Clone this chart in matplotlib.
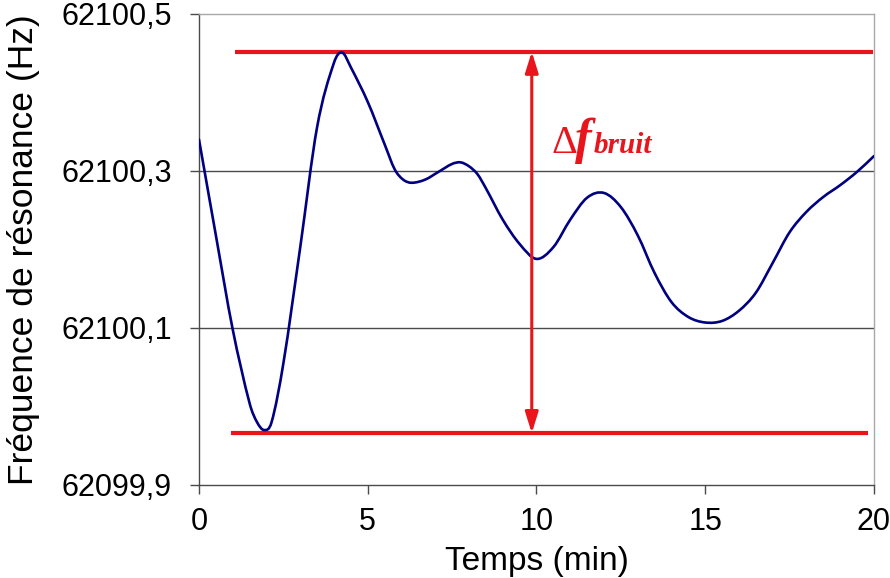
import numpy as np
import matplotlib
matplotlib.use("Agg")
import matplotlib.pyplot as plt
from matplotlib.path import Path
from matplotlib.patches import PathPatch

# Resonance frequency drift over time
temps = [0, 0.5, 1, 1.5, 1.72, 1.93, 2.15, 2.5, 3, 3.5, 4, 4.24, 4.5, 5, 5.5,
         5.8, 6.05, 6.3, 6.7, 7.1, 7.5, 7.75, 8, 8.25, 8.5, 9, 9.5, 10, 10.5,
         11, 11.5, 12, 12.5, 13, 13.5, 14, 14.5, 15, 15.5, 16, 16.5, 17, 17.5,
         18, 18.5, 19, 19.5, 20]
freq = [62100.340, 62100.218, 62100.098, 62100.004, 62099.980, 62099.970,
        62099.980, 62100.055, 62100.203, 62100.356, 62100.438, 62100.451,
        62100.432, 62100.388, 62100.334, 62100.302, 62100.289, 62100.285,
        62100.289, 62100.299, 62100.309, 62100.311, 62100.306, 62100.296,
        62100.278, 62100.238, 62100.207, 62100.188, 62100.203, 62100.238,
        62100.266, 62100.272, 62100.254, 62100.218, 62100.170, 62100.133,
        62100.114, 62100.107, 62100.109, 62100.122, 62100.145, 62100.183,
        62100.222, 62100.248, 62100.267, 62100.282, 62100.299, 62100.319]

# Noise band limits and arrow position
f_haut = 62100.452
f_bas = 62099.966
haut_debut, haut_fin = 1.07, 19.97
bas_debut, bas_fin = 0.94, 19.82
t_fleche = 9.86

x_ticks = [0, 5, 10, 15, 20]
y_ticks = [62099.9, 62100.1, 62100.3, 62100.5]
y_tick_labels = ["62099,9", "62100,1", "62100,3", "62100,5"]

ROUGE = "#e8161c"
BLEU = "#000080"
GRIS = "#4a4a4a"


def catmull_slopes(x, y):
    x = np.asarray(x, float)
    y = np.asarray(y, float)
    m = np.empty_like(y)
    m[1:-1] = (y[2:] - y[:-2]) / (x[2:] - x[:-2])
    m[0] = (y[1] - y[0]) / (x[1] - x[0])
    m[-1] = (y[-1] - y[-2]) / (x[-1] - x[-2])
    return m


def smooth_path(x, y):
    """Cubic Bezier path through the samples (smoothed line)."""
    x = np.asarray(x, float)
    y = np.asarray(y, float)
    m = catmull_slopes(x, y)
    verts = [(x[0], y[0])]
    codes = [Path.MOVETO]
    for i in range(len(x) - 1):
        h = x[i + 1] - x[i]
        verts += [(x[i] + h / 3, y[i] + m[i] * h / 3),
                  (x[i + 1] - h / 3, y[i + 1] - m[i + 1] * h / 3),
                  (x[i + 1], y[i + 1])]
        codes += [Path.CURVE4] * 3
    return Path(verts, codes)


fig = plt.figure(figsize=(8.9, 5.78), dpi=100)
ax = fig.add_axes([0.2236, 0.1609, 0.7584, 0.8149])

ax.set_xlim(0, 20)
ax.set_ylim(62099.9, 62100.5)

# Horizontal gridlines
for yv in y_ticks[1:3]:
    ax.axhline(yv, color=GRIS, lw=1.0, zorder=1)

# Frequency curve
ax.add_patch(PathPatch(smooth_path(temps, freq), facecolor="none",
                       edgecolor=BLEU, lw=1.9, zorder=3, capstyle="round",
                       joinstyle="round"))

# Noise band: upper / lower limits and double arrow
ax.plot([haut_debut, haut_fin], [f_haut, f_haut], color=ROUGE, lw=3.0,
        zorder=2, solid_capstyle="butt")
ax.plot([bas_debut, bas_fin], [f_bas, f_bas], color=ROUGE, lw=3.0,
        zorder=2, solid_capstyle="butt")
ax.annotate("", xy=(t_fleche, f_haut), xytext=(t_fleche, f_bas),
            arrowprops=dict(arrowstyle="<|-|>,head_length=0.9,head_width=0.28",
                            color=ROUGE, lw=2.2, shrinkA=0, shrinkB=0,
                            mutation_scale=14),
            zorder=4)

# Δf_bruit label
y_txt = 62100.323
ax.text(10.44, y_txt, "\u0394", color=ROUGE, fontsize=29,
        family="Liberation Serif", va="baseline", ha="left")
ax.text(11.14, y_txt, "f", color=ROUGE, fontsize=36, family="Liberation Serif",
        style="italic", weight="bold", va="baseline", ha="left")
ax.text(11.70, y_txt, "bruit", color=ROUGE, fontsize=21,
        family="Liberation Serif", style="italic", weight="bold",
        va="baseline", ha="left")

# Axes styling
for side in ("left", "bottom"):
    ax.spines[side].set_color(GRIS)
    ax.spines[side].set_linewidth(1.0)
for side in ("top", "right"):
    ax.spines[side].set_color("#a8a8a8")
    ax.spines[side].set_linewidth(1.0)

ax.set_xticks(x_ticks)
ax.set_xticklabels([str(v) for v in x_ticks])
ax.set_yticks(y_ticks)
ax.set_yticklabels(y_tick_labels)
ax.tick_params(axis="both", direction="out", length=6.5, width=1.0,
               color=GRIS, labelsize=22, labelcolor="black")
ax.tick_params(axis="y", pad=13)
ax.tick_params(axis="x", pad=9)
for lbl in ax.get_xticklabels() + ax.get_yticklabels():
    lbl.set_family("Liberation Sans")

ax.set_xlabel("Temps (min)", fontsize=24, family="Liberation Sans")
ax.set_ylabel("Fréquence de résonance (Hz)", fontsize=25.5,
              family="Liberation Sans")
ax.xaxis.set_label_coords(0.5, -0.13)
ax.yaxis.set_label_coords(-0.236, 0.5)

fig.savefig("out.png", dpi=100, facecolor="white")
